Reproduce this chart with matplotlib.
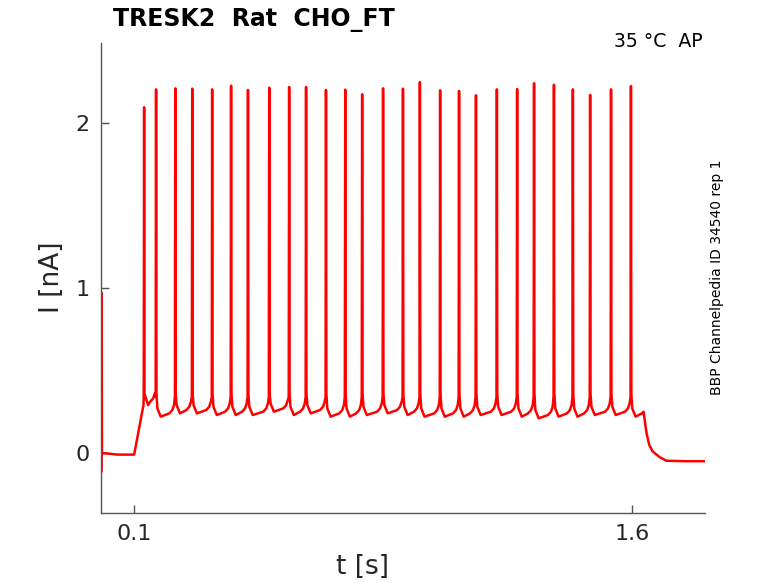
import numpy as np
import matplotlib
matplotlib.use("Agg")
import matplotlib.pyplot as plt

# spike times (s) and peak currents (nA)
spike_t = [0.130, 0.166, 0.224, 0.275, 0.335, 0.392, 0.443, 0.507, 0.567,
           0.618, 0.678, 0.736, 0.787, 0.850, 0.910, 0.961, 1.022, 1.079,
           1.130, 1.193, 1.254, 1.305, 1.365, 1.422, 1.474, 1.537, 1.597]
spike_peak = [2.095, 2.204, 2.210, 2.208, 2.204, 2.226, 2.200, 2.214, 2.218,
              2.218, 2.200, 2.202, 2.174, 2.210, 2.208, 2.248, 2.198, 2.194,
              2.168, 2.204, 2.206, 2.241, 2.232, 2.204, 2.170, 2.204, 2.224]
# minimum after each spike
trough = [0.29, 0.22, 0.24, 0.24, 0.23, 0.23, 0.23, 0.25, 0.23, 0.24, 0.22,
          0.22, 0.23, 0.24, 0.23, 0.22, 0.22, 0.22, 0.23, 0.23, 0.22, 0.21,
          0.22, 0.22, 0.23, 0.23, 0.22]

# before stimulus: capacitive transient, baseline, ramp up
head_t = [0.002, 0.002, 0.003, 0.05, 0.100, 0.128]
head_i = [-0.11, 0.97, 0.0, -0.01, -0.01, 0.29]
# after last spike: small bump then decay to holding level
tail_t = [1.630, 1.635, 1.644, 1.652, 1.662, 1.684, 1.704, 1.760, 1.820]
tail_i = [0.240, 0.250, 0.120, 0.050, 0.010, -0.026, -0.047, -0.050, -0.050]

# build trace vertices
t = list(head_t)
y = list(head_i)
n = len(spike_t)
for k in range(n):
    ts, pk, tr = spike_t[k], spike_peak[k], trough[k]
    if k > 0:
        prev_tr = trough[k - 1]
        t += [ts - 0.018, ts - 0.009, ts - 0.004]
        y += [prev_tr + 0.02, prev_tr + 0.04, prev_tr + 0.07]
    t += [ts - 0.0012, ts, ts + 0.0012, ts + 0.004]
    y += [0.34, pk, 0.36, tr + 0.05]
    if k == 0:
        t += [ts + 0.012]
    else:
        t += [ts + 0.014]
    y += [tr]
t += tail_t
y += tail_i

fig = plt.figure(figsize=(7.78, 5.83), dpi=100)
ax = fig.add_axes([0.1298, 0.1206, 0.7763, 0.8057])
ax.plot(t, y, color="#ff0000", lw=1.8, solid_joinstyle="round")

ax.set_xlim(0, 1.82)
ax.set_ylim(-0.362, 2.485)
ax.set_xticks([0.1, 1.6])
ax.set_xticklabels(["0.1", "1.6"])
ax.set_yticks([0, 1, 2])
ax.set_yticklabels(["0", "1", "2"])
ax.tick_params(direction="in", length=6, width=1, color="#555555",
               labelsize=16, labelcolor="#262626", pad=8)
for s in ["top", "right"]:
    ax.spines[s].set_visible(False)
for s in ["left", "bottom"]:
    ax.spines[s].set_color("#555555")
    ax.spines[s].set_linewidth(1.0)

fig.text(363 / 778, 1 - 567 / 583, "t [s]", fontsize=19, color="#262626",
         ha="center", va="center")
fig.text(52 / 778, 1 - 277.5 / 583, "I [nA]", fontsize=19, color="#262626",
         ha="center", va="center", rotation=90)

fig.text(113 / 778, 1 - 26 / 583, "TRESK2  Rat  CHO_FT", fontsize=17,
         fontweight="bold", ha="left", va="baseline")
fig.text(703 / 778, 1 - 47.3 / 583, "35 °C  AP", fontsize=13.6,
         ha="right", va="baseline")
fig.text(717 / 778, 1 - 277.5 / 583, "BBP Channelpedia ID 34540 rep 1",
         fontsize=10, rotation=90, ha="center", va="center")

fig.savefig("out.png", dpi=100)
